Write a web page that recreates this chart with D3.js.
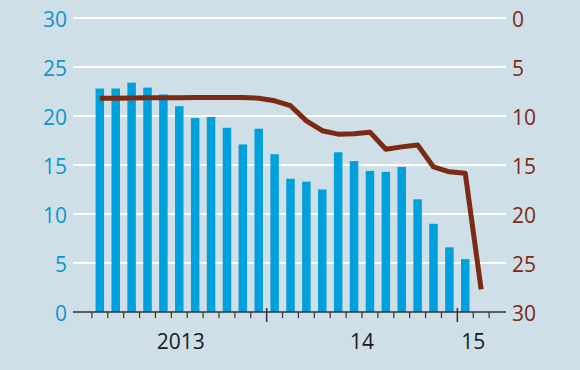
<!DOCTYPE html>
<html>
<head>
<meta charset="utf-8">
<script src="https://cdn.jsdelivr.net/npm/d3@7"></script>
<style>
  html, body { margin: 0; padding: 0; background: #cfdfe7; }
  svg { display: block; font-family: "Open Sans", Roboto, sans-serif; }
</style>
</head>
<body>
<div id="chart"></div>
<script>
// months shown, Feb 2013 .. Feb 2015
const months = ["2013-02","2013-03","2013-04","2013-05","2013-06","2013-07","2013-08","2013-09","2013-10","2013-11","2013-12",
  "2014-01","2014-02","2014-03","2014-04","2014-05","2014-06","2014-07","2014-08","2014-09","2014-10","2014-11","2014-12",
  "2015-01","2015-02"];
// left axis, blue bars (no bar for the last month)
const barValues = [22.8, 22.8, 23.4, 22.9, 22.2, 21.0, 19.8, 19.9, 18.8, 17.1, 18.7, 16.1,
  13.6, 13.3, 12.5, 16.3, 15.4, 14.4, 14.3, 14.8, 11.5, 9.0, 6.6, 5.4, null];
// right axis (inverted), brown line
const lineValues = [8.2, 8.18, 8.16, 8.15, 8.14, 8.13, 8.12, 8.1, 8.1, 8.12, 8.18, 8.45,
  8.95, 10.5, 11.5, 11.85, 11.8, 11.65, 13.4, 13.15, 12.95, 15.2, 15.7, 15.85, 27.7];
const leftTicks = [0, 5, 10, 15, 20, 25, 30];
const rightTicks = [0, 5, 10, 15, 20, 25, 30];
const yearLabels = ["2013", "14", "15"];
const yearLabelMonth = [6.6, 18, 25];   // month index since Jan 2013
const source = "Sources: Thomson Reuters; The Economist";

const width = 580, height = 370;
const blue = "#00a0dc", brown = "#7b2a14";

const svg = d3.select("#chart").append("svg")
  .attr("width", width)
  .attr("height", height);

svg.append("rect").attr("width", width).attr("height", height).attr("fill", "#cfdfe7");

// month index since Jan 2013
const monthIndex = m => (+m.slice(0, 4) - 2013) * 12 + (+m.slice(5, 7) - 1);

const x = d3.scaleLinear().domain([0, 27]).range([76, 505]);
const yL = d3.scaleLinear().domain([0, 30]).range([312, 18]);
const yR = d3.scaleLinear().domain([0, 30]).range([18, 312]);

// gridlines
svg.append("g")
  .selectAll("line")
  .data(leftTicks.filter(d => d > 0)).enter()
  .append("line")
  .attr("x1", 73).attr("x2", 506)
  .attr("y1", d => yL(d)).attr("y2", d => yL(d))
  .attr("stroke", "#fff")
  .attr("stroke-width", 2);

// left labels
svg.append("g")
  .selectAll("text")
  .data(leftTicks).enter()
  .append("text")
  .attr("x", 67)
  .attr("y", d => yL(d))
  .attr("dy", "0.42em")
  .attr("text-anchor", "end")
  .attr("fill", "#0b96cf")
  .style("font-size", "21px")
  .text(d => d);

// right labels
svg.append("g")
  .selectAll("text")
  .data(rightTicks).enter()
  .append("text")
  .attr("x", 512)
  .attr("y", d => yR(d))
  .attr("dy", "0.42em")
  .attr("fill", brown)
  .style("font-size", "21px")
  .text(d => d);

// bars
const barW = 8.5;
svg.append("g")
  .selectAll("rect")
  .data(months.map((m, i) => ({m: m, v: barValues[i]})).filter(d => d.v != null)).enter()
  .append("rect")
  .attr("x", d => x(monthIndex(d.m) + 0.5) - barW / 2)
  .attr("y", d => yL(d.v))
  .attr("width", barW)
  .attr("height", d => yL(0) - yL(d.v))
  .attr("fill", blue);

// x axis
svg.append("line")
  .attr("x1", 73).attr("x2", 506)
  .attr("y1", 312).attr("y2", 312)
  .attr("stroke", "#333")
  .attr("stroke-width", 1.5);

const tickMonths = d3.range(1, 27);
svg.append("g")
  .selectAll("line")
  .data(tickMonths).enter()
  .append("line")
  .attr("x1", d => x(d)).attr("x2", d => x(d))
  .attr("y1", d => d % 12 === 0 ? 308 : 312)
  .attr("y2", d => d % 12 === 0 ? 322 : 318)
  .attr("stroke", "#333")
  .attr("stroke-width", d => d % 12 === 0 ? 1.5 : 1.2);

svg.append("g")
  .selectAll("text")
  .data(yearLabels).enter()
  .append("text")
  .attr("x", (d, i) => x(yearLabelMonth[i]))
  .attr("y", 349)
  .attr("text-anchor", "middle")
  .attr("fill", "#1a1a1a")
  .style("font-size", "21px")
  .text(d => d);

// line
const line = d3.line()
  .x(d => x(monthIndex(d.m) + 0.5))
  .y(d => yR(d.v));

svg.append("path")
  .datum(months.map((m, i) => ({m: m, v: lineValues[i]})))
  .attr("d", line)
  .attr("fill", "none")
  .attr("stroke", brown)
  .attr("stroke-width", 5)
  .attr("stroke-linejoin", "round");

// source (cut off at the bottom, as in the original)
svg.append("text")
  .attr("x", 44)
  .attr("y", 381)
  .attr("fill", "#555")
  .style("font-size", "14px")
  .text(source);
</script>
</body>
</html>
